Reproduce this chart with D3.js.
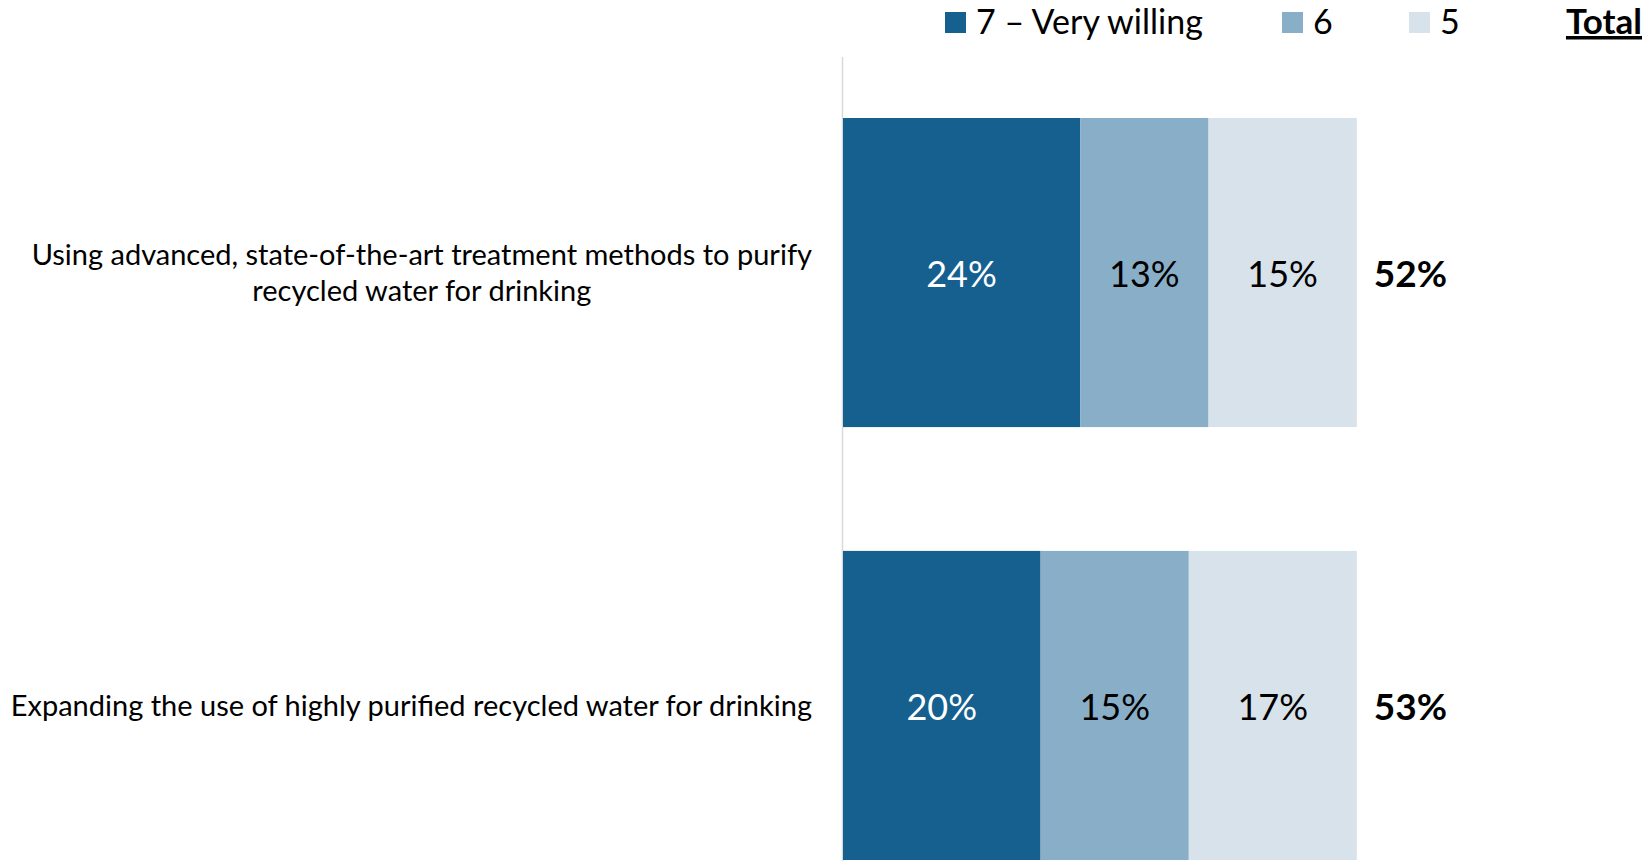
<!DOCTYPE html>
<html>
<head>
<meta charset="utf-8">
<script src="https://cdn.jsdelivr.net/npm/d3@7"></script>
<style>
  body { margin: 0; background: #fff; }
  svg { display: block; font-family: Lato, "Open Sans", sans-serif; }
</style>
</head>
<body>
<script>
// categories (top to bottom)
var categories = [
  'Using advanced, state-of-the-art treatment methods to purify recycled water for drinking',
  'Expanding the use of highly purified recycled water for drinking'
]
var seriesNames = ['7 – Very willing', '6', '5']
var veryWilling = [24, 20]
var six = [13, 15]
var five = [15, 17]
var totals = [52, 53]
var colors = ['#15608f', '#89afc8', '#d8e2eb']

var width = 1650, height = 861
var svg = d3.select('body').append('svg')
  .attr('width', width)
  .attr('height', height);

var rows = categories.map((c, i) => ({ cat: c, s0: veryWilling[i], s1: six[i], s2: five[i], total: totals[i] }))
var keys = ['s0', 's1', 's2']
var stacked = d3.stack().keys(keys)(rows)

var x = d3.scaleLinear().domain([0, 100]).range([843, 843 + 988])
var y = d3.scaleBand().domain(categories).range([118, 860]).paddingInner(0.286).paddingOuter(0)

// vertical axis line
svg.append('line')
  .attr('x1', 842.5).attr('x2', 842.5)
  .attr('y1', 57).attr('y2', height)
  .attr('stroke', '#d9d9d9')
  .attr('stroke-width', 1.5);

// bars
var layer = svg.selectAll('g.layer')
  .data(stacked)
  .enter().append('g')
    .attr('class', 'layer')
    .attr('fill', (d, i) => colors[i]);

layer.selectAll('rect')
  .data(d => d)
  .enter().append('rect')
    .attr('x', d => x(d[0]))
    .attr('y', d => y(d.data.cat))
    .attr('width', d => x(d[1]) - x(d[0]))
    .attr('height', y.bandwidth());

// value labels inside segments
var valSize = 36
layer.selectAll('text')
  .data(d => d)
  .enter().append('text')
    .attr('x', d => (x(d[0]) + x(d[1])) / 2)
    .attr('y', d => y(d.data.cat) + y.bandwidth() / 2 + valSize * 0.41)
    .attr('text-anchor', 'middle')
    .attr('font-size', valSize)
    .attr('fill', function () { return this.parentNode.getAttribute('fill') === colors[0] ? '#fff' : '#000' })
    .text(d => (d[1] - d[0]) + '%');

// totals
svg.selectAll('text.total')
  .data(rows)
  .enter().append('text')
    .attr('class', 'total')
    .attr('x', d => x(d.s0 + d.s1 + d.s2) + 17)
    .attr('y', d => y(d.cat) + y.bandwidth() / 2 + valSize * 0.41)
    .attr('font-size', 37)
    .attr('font-weight', 'bold')
    .text(d => d.total + '%');

// category labels, wrapped; lines centered inside a right-aligned block
var catSize = 29, lineH = 36.8, labelRight = 812, maxW = 845
svg.selectAll('g.cat')
  .data(categories)
  .enter().append('g')
    .attr('class', 'cat')
    .each(function (c) {
      var g = d3.select(this)
      var words = c.split(' '), lines = [], cur = ''
      var probe = g.append('text').attr('font-size', catSize)
      words.forEach(w => {
        var t = cur ? cur + ' ' + w : w
        probe.text(t)
        if (probe.node().getComputedTextLength() > maxW && cur) { lines.push(cur); cur = w }
        else cur = t
      })
      lines.push(cur)
      var widths = lines.map(l => { probe.text(l); return probe.node().getComputedTextLength() })
      probe.remove()
      var blockW = d3.max(widths)
      var cy = y(c) + y.bandwidth() / 2
      var top = cy - (lines.length - 1) * lineH / 2
      lines.forEach((l, i) => {
        g.append('text')
          .attr('x', labelRight - blockW / 2)
          .attr('y', top + i * lineH + catSize * 0.36)
          .attr('text-anchor', 'middle')
          .attr('font-size', catSize)
          .attr('fill', '#000')
          .text(l)
      })
    });

// legend
var legendX = [945, 1282, 1409]
var legSize = 34
var leg = svg.selectAll('g.legend')
  .data(seriesNames)
  .enter().append('g')
    .attr('class', 'legend')
    .attr('transform', (d, i) => 'translate(' + legendX[i] + ',0)');

leg.append('rect')
  .attr('x', 0).attr('y', 12)
  .attr('width', 21).attr('height', 21)
  .attr('fill', (d, i) => colors[i]);

leg.append('text')
  .attr('x', 31).attr('y', 34)
  .attr('font-size', legSize)
  .attr('fill', '#000')
  .text(d => d);

svg.append('text')
  .attr('x', 1642).attr('y', 34)
  .attr('text-anchor', 'end')
  .attr('font-size', 35)
  .attr('font-weight', 'bold')
  .attr('text-decoration', 'underline')
  .text('Total');
</script>
</body>
</html>
